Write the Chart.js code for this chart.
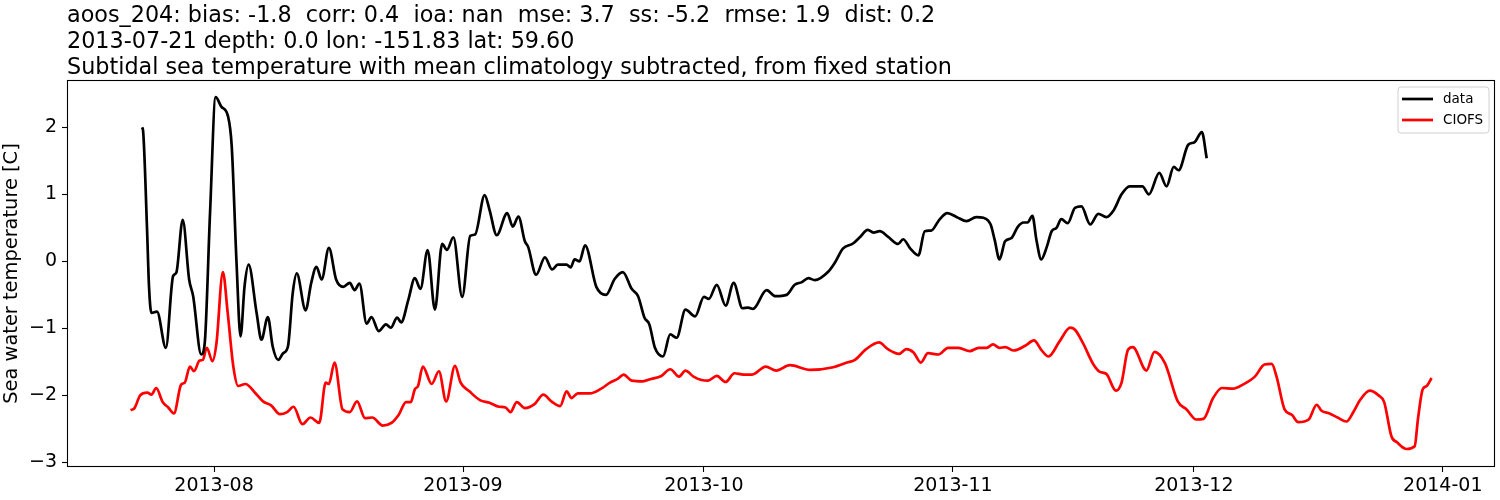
<!DOCTYPE html>
<html lang="en">
<head>
    <meta charset="UTF-8">
    <title>aoos_204 sea water temperature</title>
    <script src="https://cdn.jsdelivr.net/npm/chart.js"></script>
    <style>
        body { margin: 0; background: #fff; }
        canvas { display: block; }
    </style>
</head>
<body>
    <canvas id="tempChart" width="1500" height="500"></canvas>

    <script>
        // x values are days since 2013-08-01
        const monthTicks = [0, 31, 61, 92, 122, 153];
        const monthLabels = ['2013-08', '2013-09', '2013-10', '2013-11', '2013-12', '2014-01'];
        const tempTicks = [-3, -2, -1, 0, 1, 2];

        const titleLines = [
            'aoos_204: bias: -1.8  corr: 0.4  ioa: nan  mse: 3.7  ss: -5.2  rmse: 1.9  dist: 0.2',
            '2013-07-21 depth: 0.0 lon: -151.83 lat: 59.60',
            'Subtidal sea temperature with mean climatology subtracted, from fixed station'
        ];

        // observed station data
        const dataDays = [-8.97, -8.84, -8.34, -8.1, -7.8, -7.1, -6.0, -5.1, -4.7, -3.9, -3.1, -2.6, -1.6, -1.16, -0.5,
            0.2, 0.9, 1.75, 2.2, 2.8, 3.3, 3.8, 4.3, 5.3, 5.9, 6.7, 7.3, 8.0, 8.6, 9.2, 9.8, 10.3, 11.4, 12.1, 12.75,
            13.4, 14.3, 15.2, 16.1, 16.9, 17.5, 18.1, 19.0, 19.6, 20.5, 21.4, 22.0, 22.8, 23.3, 24.2, 25.0, 25.7,
            26.6, 27.5, 28.4, 29.0, 29.8, 30.9, 31.9, 32.5, 33.7, 34.3, 35.2, 36.5, 37.2, 37.9, 38.7, 39.1, 40.1,
            41.2, 42.1, 42.8, 43.9, 44.4, 44.9, 45.5, 46.2, 47.6, 48.8, 49.9, 50.9, 52.0, 52.8, 53.6, 54.2, 54.9,
            55.9, 56.8, 57.6, 58.7, 59.9, 61.0, 61.6, 62.6, 63.7, 64.7, 65.8, 66.5, 67.1, 68.8, 69.9, 71.3, 72.3,
            73.2, 74.0, 74.8, 76.5, 77.3, 78.3, 79.6, 80.4, 81.4, 82.1, 82.9, 83.9, 85.2, 85.8, 86.7, 87.7, 88.5,
            89.3, 90.3, 91.3, 92.5, 93.7, 94.9, 95.8, 96.7, 97.2, 97.8, 98.5, 99.3, 100.1, 100.8, 101.3, 101.9,
            102.4, 103.0, 103.7, 104.3, 104.9, 105.5, 106.3, 107.2, 108.0, 109.1, 110.1, 111.1, 112.0, 113.0,
            114.0, 115.6, 116.4, 117.7, 118.6, 119.5, 120.1, 121.3, 122.1, 123.0, 123.6];
        const dataTemp = [2.0, 1.95, 0.47, -0.37, -0.77, -0.75, -1.29, -0.22, -0.17, 0.62, -0.27, -0.52, -1.39, -1.22, 0.72,
            2.45, 2.31, 2.16, 1.72, -0.02, -1.12, -0.37, -0.05, -0.77, -1.17, -0.83, -1.27, -1.47, -1.37, -1.27, -0.47,
            -0.18, -0.73, -0.32, -0.08, -0.27, 0.2, -0.27, -0.38, -0.32, -0.43, -0.33, -0.93, -0.83, -1.04, -0.94,
            -0.99, -0.84, -0.91, -0.57, -0.25, -0.41, 0.17, -0.72, 0.26, 0.17, 0.36, -0.53, 0.38, 0.4, 0.99, 0.77,
            0.39, 0.72, 0.52, 0.67, 0.3, 0.22, -0.2, 0.06, -0.12, -0.05, -0.05, -0.09, 0.03, 0.0, 0.24, -0.38, -0.5,
            -0.26, -0.16, -0.41, -0.52, -0.84, -0.94, -1.29, -1.42, -1.09, -1.14, -0.72, -0.82, -0.53, -0.56, -0.35,
            -0.66, -0.32, -0.7, -0.69, -0.71, -0.43, -0.52, -0.5, -0.35, -0.31, -0.25, -0.28, -0.15, -0.02, 0.19,
            0.27, 0.36, 0.47, 0.43, 0.45, 0.37, 0.26, 0.33, 0.19, 0.09, 0.45, 0.46, 0.62, 0.72, 0.66, 0.6, 0.66,
            0.65, 0.55, 0.32, 0.03, 0.3, 0.35, 0.52, 0.58, 0.58, 0.68, 0.32, 0.03, 0.22, 0.45, 0.5, 0.63, 0.57,
            0.8, 0.82, 0.55, 0.71, 0.66, 0.76, 1.0, 1.12, 1.12, 1.0, 1.32, 1.12, 1.41, 1.36, 1.74, 1.78, 1.93, 1.54];

        // CIOFS model output
        const ciofsDays = [-10.4, -9.9, -9.2, -8.3, -7.8, -7.2, -6.4, -5.7, -5.0, -4.1, -3.65, -3.0, -2.5, -1.8, -1.4,
            -0.9, -0.2, 0.3, 1.1, 1.7, 2.4, 3.0, 3.9, 5.1, 6.1, 7.1, 8.2, 9.1, 9.9, 11.0, 12.0, 13.1, 13.9, 14.3,
            15.0, 16.0, 16.9, 17.8, 18.8, 19.7, 21.0, 22.1, 23.0, 23.9, 24.5, 25.0, 25.4, 26.0, 27.1, 28.0, 28.9,
            30.0, 30.7, 31.8, 33.1, 34.3, 35.5, 36.3, 36.9, 37.7, 38.7, 39.9, 41.0, 42.0, 43.1, 43.9, 44.5, 45.3,
            46.8, 48.2, 49.3, 50.3, 51.0, 52.0, 53.4, 54.3, 55.7, 56.8, 57.9, 58.7, 59.7, 60.7, 61.5, 62.6, 63.7,
            64.8, 65.9, 67.0, 68.7, 70.0, 71.7, 74.2, 77.1, 78.8, 79.8, 81.2, 82.8, 83.9, 85.3, 86.2, 87.1, 88.0,
            88.9, 90.2, 91.4, 92.7, 94.1, 95.2, 96.2, 97.0, 97.8, 98.5, 99.6, 101.0, 102.1, 103.0, 103.9, 105.3,
            106.6, 107.2, 108.2, 109.5, 110.3, 111.1, 112.3, 113.0, 113.8, 114.4, 116.1, 117.1, 118.4, 120.0,
            121.1, 122.3, 123.2, 124.4, 125.5, 126.9, 128.1, 129.6, 130.8, 131.7, 132.3, 133.3, 134.2, 135.0,
            136.3, 137.3, 137.9, 138.9, 139.9, 141.0, 141.9, 142.7, 143.9, 145.0, 145.7, 146.6, 147.3, 148.5,
            149.5, 149.9, 150.5, 151.0, 151.6];
        const ciofsTemp = [-2.22, -2.19, -2.0, -1.96, -1.99, -1.89, -2.1, -2.18, -2.27, -1.84, -1.81, -1.57, -1.64, -1.48,
            -1.47, -1.29, -1.49, -1.22, -0.16, -0.77, -1.57, -1.86, -1.83, -1.96, -2.09, -2.15, -2.28, -2.25, -2.17,
            -2.43, -2.33, -2.41, -1.81, -1.83, -1.51, -2.21, -2.25, -2.09, -2.34, -2.33, -2.45, -2.41, -2.29, -2.1,
            -2.1, -1.91, -1.86, -1.57, -1.83, -1.64, -2.09, -1.56, -1.81, -1.94, -2.07, -2.11, -2.17, -2.18, -2.25,
            -2.1, -2.19, -2.13, -1.99, -2.09, -2.16, -1.94, -2.04, -1.97, -1.97, -1.9, -1.81, -1.75, -1.69, -1.78,
            -1.79, -1.76, -1.71, -1.61, -1.72, -1.63, -1.72, -1.77, -1.78, -1.71, -1.8, -1.67, -1.69, -1.69, -1.57,
            -1.63, -1.55, -1.62, -1.58, -1.51, -1.47, -1.31, -1.21, -1.31, -1.38, -1.31, -1.36, -1.51, -1.37, -1.39,
            -1.29, -1.29, -1.34, -1.29, -1.29, -1.24, -1.29, -1.28, -1.33, -1.26, -1.18, -1.32, -1.42, -1.19, -0.99,
            -1.02, -1.22, -1.54, -1.65, -1.68, -1.93, -1.81, -1.32, -1.28, -1.63, -1.35, -1.52, -2.09, -2.21, -2.36,
            -2.35, -2.04, -1.89, -1.9, -1.84, -1.72, -1.54, -1.53, -1.72, -2.21, -2.29, -2.4, -2.36, -2.14, -2.23,
            -2.27, -2.33, -2.39, -2.24, -2.07, -1.93, -2.0, -2.1, -2.61, -2.7, -2.8, -2.76, -2.36, -1.91, -1.86, -1.74];

        const font = 'DejaVu Sans';
        const toPoints = (xs, ys) => xs.map((x, i) => ({ x: x, y: ys[i] }));

        // title lines above the axes, left aligned with the plot frame
        const titlePlugin = {
            id: 'titleLines',
            afterDraw(chart) {
                const ctx = chart.ctx;
                ctx.save();
                ctx.fillStyle = '#000';
                ctx.font = '22.3px "' + font + '"';
                ctx.textBaseline = 'alphabetic';
                titleLines.forEach((line, i) => {
                    ctx.fillText(line, chart.chartArea.left, 22 + i * 26.2);
                });
                ctx.restore();
            }
        };

        // full box around the plot + matplotlib style legend
        const framePlugin = {
            id: 'frameAndLegend',
            afterDatasetsDraw(chart) {
                const ctx = chart.ctx;
                const a = chart.chartArea;
                ctx.save();
                ctx.strokeStyle = '#000';
                ctx.lineWidth = 1.1;
                ctx.strokeRect(a.left + 0.5, a.top + 0.5, a.right - a.left - 1, a.bottom - a.top - 1);

                const bx = a.right - 97, by = a.top + 7, bw = 91, bh = 46;
                ctx.beginPath();
                ctx.roundRect(bx, by, bw, bh, 3);
                ctx.fillStyle = 'rgba(255,255,255,0.8)';
                ctx.fill();
                ctx.strokeStyle = '#d0d0d0';
                ctx.lineWidth = 1;
                ctx.stroke();

                ctx.font = '13.5px "' + font + '"';
                ctx.textBaseline = 'middle';
                chart.data.datasets.forEach((ds, i) => {
                    const y = by + 12 + i * 21;
                    ctx.beginPath();
                    ctx.moveTo(bx + 4, y);
                    ctx.lineTo(bx + 35, y);
                    ctx.strokeStyle = ds.borderColor;
                    ctx.lineWidth = ds.borderWidth;
                    ctx.stroke();
                    ctx.fillStyle = '#000';
                    ctx.fillText(ds.label, bx + 45, y);
                });
                ctx.restore();
            }
        };

        new Chart(document.getElementById('tempChart').getContext('2d'), {
            type: 'line',
            data: {
                datasets: [
                    {
                        label: 'data',
                        data: toPoints(dataDays, dataTemp),
                        borderColor: '#000000',
                        borderWidth: 2.7,
                        pointRadius: 0,
                        cubicInterpolationMode: 'monotone',
                        fill: false
                    },
                    {
                        label: 'CIOFS',
                        data: toPoints(ciofsDays, ciofsTemp),
                        borderColor: '#ff0000',
                        borderWidth: 2.7,
                        pointRadius: 0,
                        cubicInterpolationMode: 'monotone',
                        fill: false
                    }
                ]
            },
            options: {
                responsive: false,
                animation: false,
                layout: { padding: { top: 80, right: 5, left: 0, bottom: 0 } },
                plugins: {
                    legend: { display: false },
                    tooltip: { enabled: false }
                },
                scales: {
                    x: {
                        type: 'linear',
                        min: -18.31,
                        max: 159.5,
                        afterFit: scale => { scale.height = 33; },
                        afterBuildTicks: scale => { scale.ticks = monthTicks.map(v => ({ value: v })); },
                        border: { display: false },
                        grid: { drawOnChartArea: false, drawTicks: true, tickLength: 5, tickColor: '#000', tickWidth: 1.1 },
                        ticks: {
                            color: '#000',
                            padding: 3,
                            maxRotation: 0,
                            autoSkip: false,
                            font: { family: font, size: 19 },
                            callback: (value) => monthLabels[monthTicks.indexOf(value)]
                        }
                    },
                    y: {
                        min: -3.069,
                        max: 2.707,
                        afterFit: scale => { scale.width = 67; },
                        afterBuildTicks: scale => { scale.ticks = tempTicks.map(v => ({ value: v })); },
                        border: { display: false },
                        grid: { drawOnChartArea: false, drawTicks: true, tickLength: 5, tickColor: '#000', tickWidth: 1.1 },
                        title: {
                            display: true,
                            text: 'Sea water temperature [C]',
                            color: '#000',
                            padding: { top: 0, bottom: 0 },
                            font: { family: font, size: 19.4 }
                        },
                        ticks: {
                            color: '#000',
                            padding: 5,
                            font: { family: font, size: 19 },
                            callback: (value) => String(value).replace('-', '\u2212')
                        }
                    }
                }
            },
            plugins: [titlePlugin, framePlugin]
        });
    </script>
</body>
</html>
